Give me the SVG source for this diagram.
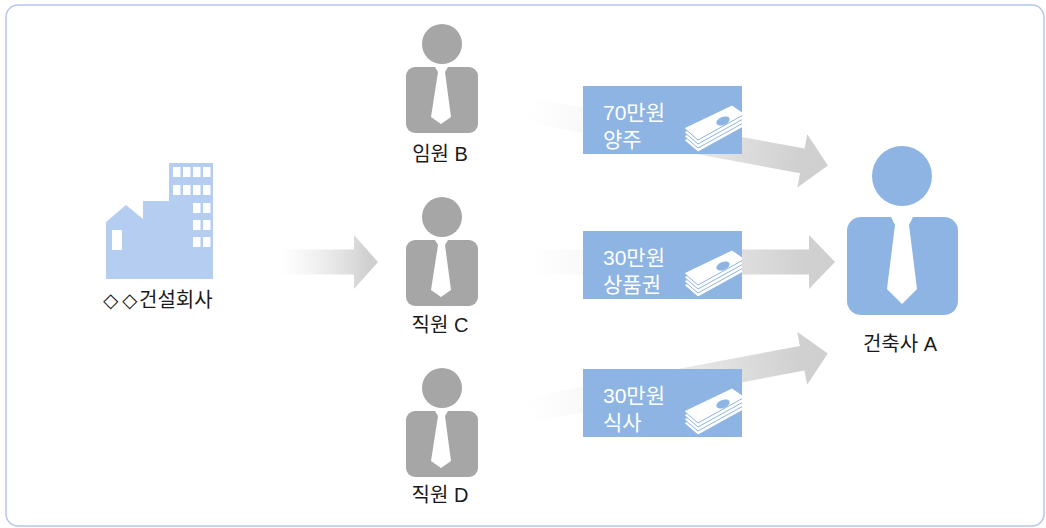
<svg xmlns="http://www.w3.org/2000/svg" width="1046" height="528" viewBox="0 0 1046 528">
  <defs>
    <style>
      .lbl { font-family: "Liberation Sans", "Noto Sans CJK KR", sans-serif; font-size: 20px; fill: #1a1a1a; text-anchor: middle; }
      .lbls { font-family: "Liberation Sans", "Noto Sans CJK KR", sans-serif; font-size: 20px; fill: #1a1a1a; text-anchor: start; }
      .dia { font-family: "DejaVu Sans", sans-serif; font-size: 20px; fill: #1a1a1a; }
      .btxt { font-family: "Liberation Sans", "Noto Sans CJK KR", sans-serif; font-size: 21px; fill: #ffffff; }
      .gray { fill: #a6a6a6; }
      .blue { fill: #8db4e2; }
      .bld { fill: #b5cdf0; }
      .win { fill: #ffffff; }
      .box { fill: #8db4e2; }
      .bill { fill: #ffffff; stroke: #8db4e2; stroke-width: 1; }
      .arrow { fill: url(#fade); }
    </style>
    <linearGradient id="fade" x1="0" y1="0" x2="1" y2="0">
      <stop offset="0" stop-color="#e4e4e4" stop-opacity="0"/>
      <stop offset="0.9" stop-color="#d0d0d0" stop-opacity="1"/>
      <stop offset="1" stop-color="#cfcfcf" stop-opacity="1"/>
    </linearGradient>
    <clipPath id="boxclip">
      <rect x="0" y="0" width="159" height="68"/>
    </clipPath>
    <g id="money" clip-path="url(#boxclip)">
      <polygon class="bill" points="101,54 149,31 162,40 115,66"/>
      <polygon class="bill" points="101,50 149,27 162,36 115,62"/>
      <polygon class="bill" points="101,46 149,23 162,32 115,58"/>
      <polygon class="bill" points="101,42 149,19 162,28 115,54"/>
      <ellipse cx="140" cy="35" rx="7" ry="4" transform="rotate(-22 140 35)" fill="#8db4e2"/>
    </g>
    <g id="grayPerson">
      <circle cx="442" cy="-23" r="20" class="gray"/>
      <rect x="406" y="0" width="72" height="66" rx="9" class="gray"/>
      <polygon fill="#ffffff" points="435,0 448,0 445,5 451,50 441,57 431,50 438,5"/>
    </g>
  </defs>

  <rect x="6" y="5" width="1038" height="521" rx="12" fill="#ffffff" stroke="#b8c4ee" stroke-width="1.5"/>

  <g id="connectors">
    <polygon class="arrow" points="280,249.5 354,249.5 354,235 378,262 354,289 354,274.5 280,274.5"/>
    <g transform="translate(527,110) rotate(10.47)">
      <polygon class="arrow" points="0,-12.5 280,-12.5 280,-27 306,0 280,27 280,12.5 0,12.5"/>
    </g>
    <g transform="translate(527,262)">
      <polygon class="arrow" points="0,-12.5 282,-12.5 282,-27 308,0 282,27 282,12.5 0,12.5"/>
    </g>
    <g transform="translate(527,410) rotate(-10.65)">
      <polygon class="arrow" points="0,-12.5 280,-12.5 280,-27 306,0 280,27 280,12.5 0,12.5"/>
    </g>
  </g>

  <g id="company">
    <polygon class="bld" points="106,279 106,222 126,205 143,219 143,201 169,201 169,163 213,163 213,279"/>
    <rect class="win" x="112" y="230" width="10" height="20"/>
    <rect class="win" x="173" y="167" width="7.5" height="10"/>
    <rect class="win" x="183" y="167" width="7.5" height="10"/>
    <rect class="win" x="193" y="167" width="7.5" height="10"/>
    <rect class="win" x="203" y="167" width="7.5" height="10"/>
    <rect class="win" x="173" y="185" width="7.5" height="10"/>
    <rect class="win" x="183" y="185" width="7.5" height="10"/>
    <rect class="win" x="193" y="185" width="7.5" height="10"/>
    <rect class="win" x="203" y="185" width="7.5" height="10"/>
    <rect class="win" x="193" y="203" width="7.5" height="10"/>
    <rect class="win" x="203" y="203" width="7.5" height="10"/>
    <rect class="win" x="193" y="220" width="7.5" height="10"/>
    <rect class="win" x="203" y="220" width="7.5" height="10"/>
    <rect class="win" x="193" y="237" width="7.5" height="10"/>
    <rect class="win" x="203" y="237" width="7.5" height="10"/>
    <text class="lbls" x="103" y="307"><tspan class="dia" x="103">◇</tspan><tspan class="dia" x="122">◇</tspan><tspan x="139">건설회사</tspan></text>
  </g>

  <g id="personB">
    <use href="#grayPerson" transform="translate(0,67)"/>
    <text class="lbl" x="440" y="161">임원 B</text>
  </g>
  <g id="personC">
    <use href="#grayPerson" transform="translate(0,240)"/>
    <text class="lbl" x="440" y="332">직원 C</text>
  </g>
  <g id="personD">
    <use href="#grayPerson" transform="translate(0,411)"/>
    <text class="lbl" x="440" y="502">직원 D</text>
  </g>

  <g id="personA">
    <circle cx="902" cy="176" r="30" class="blue"/>
    <rect x="847" y="217" width="111" height="98" rx="14" class="blue"/>
    <polygon fill="#ffffff" points="891,217 913,217 909,225 917,289 902,304 887,289 895,225"/>
    <text class="lbl" x="900" y="351">건축사 A</text>
  </g>

  <g id="box1">
    <rect class="box" x="583" y="86" width="159" height="68"/>
    <use href="#money" transform="translate(583,86)"/>
    <text class="btxt" x="603" y="120">70만원</text>
    <text class="btxt" x="603" y="147">양주</text>
  </g>
  <g id="box2">
    <rect class="box" x="583" y="231" width="159" height="68"/>
    <use href="#money" transform="translate(583,231)"/>
    <text class="btxt" x="603" y="265">30만원</text>
    <text class="btxt" x="603" y="292">상품권</text>
  </g>
  <g id="box3">
    <rect class="box" x="583" y="369" width="159" height="68"/>
    <use href="#money" transform="translate(583,369)"/>
    <text class="btxt" x="603" y="403">30만원</text>
    <text class="btxt" x="603" y="430">식사</text>
  </g>
</svg>
